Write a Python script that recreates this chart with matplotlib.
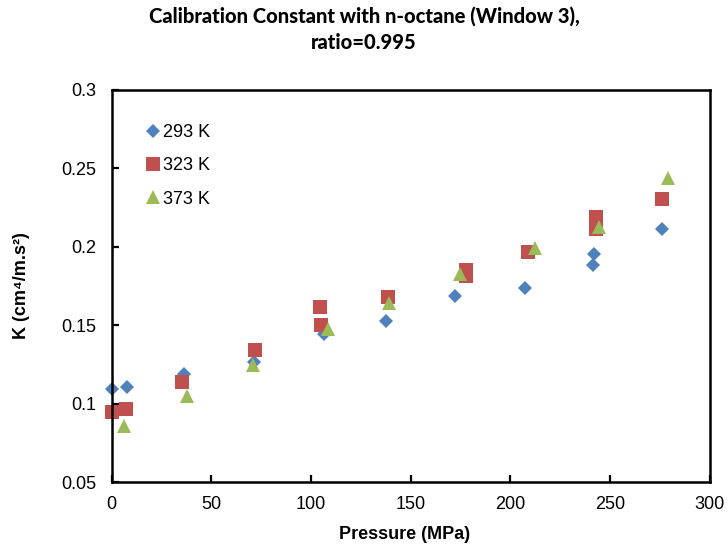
import numpy as np
import matplotlib
matplotlib.use("Agg")
import matplotlib.pyplot as plt

plt.rcParams['font.family'] = ['Liberation Sans', 'DejaVu Sans']

# data: pressure (MPa) and K (cm^4/m.s^2)
p_293 = [0, 7.5, 36.3, 71.4, 106.5, 137.6, 172.2, 207.1, 241.8, 241.2, 276]
k_293 = [0.1093, 0.1106, 0.1189, 0.1267, 0.1444, 0.1529, 0.1686, 0.1737, 0.1954, 0.1884, 0.2114]

p_323 = [0, 7, 35.1, 71.9, 104.5, 104.8, 138.7, 177.5, 177.5, 208.6, 242.7, 242.7, 275.8]
k_323 = [0.0948, 0.0966, 0.1138, 0.1342, 0.1618, 0.1501, 0.168, 0.1854, 0.1816, 0.1969, 0.2187, 0.2114, 0.2307]

p_373 = [6.2, 37.6, 70.9, 108.5, 139.2, 174.7, 212.2, 244.4, 278.8]
k_373 = [0.0857, 0.1048, 0.1246, 0.1474, 0.164, 0.1827, 0.1992, 0.2126, 0.2439]

series = [("293 K", p_293, k_293, "D", "#4F81BD", 7.5),
          ("323 K", p_323, k_323, "s", "#C0504D", 10),
          ("373 K", p_373, k_373, "^", "#9BBB59", 10)]

fig = plt.figure(figsize=(7.28, 5.5), dpi=100)
ax = fig.add_axes([0.1534, 0.1236, 0.8216, 0.7128])

for name, p, k, m, c, s in series:
    ax.plot(p, k, linestyle='none', marker=m, color=c, markersize=s,
            markeredgewidth=0, label=name, clip_on=False)

ax.set_xlim(0, 300)
ax.set_ylim(0.05, 0.3)
ax.set_xticks(np.arange(0, 301, 50))
ax.set_yticks([0.05, 0.1, 0.15, 0.2, 0.25, 0.3])
ax.set_yticklabels(["0.05", "0.1", "0.15", "0.2", "0.25", "0.3"])
ax.tick_params(direction='in', length=5, width=1.6, labelsize=13)
ax.tick_params(axis='x', pad=10)
ax.tick_params(axis='y', pad=11)
for sp in ax.spines.values():
    sp.set_linewidth(1.8)

ax.set_xlabel("Pressure (MPa)", fontsize=13, fontweight='bold')
ax.set_ylabel("K (cm\u2074/m.s\u00b2)", fontsize=13, fontweight='bold')
ax.xaxis.set_label_coords(0.49, -0.113)
ax.yaxis.set_label_coords(-0.137, 0.5)

fig.suptitle("Calibration Constant with n-octane (Window 3),\nratio=0.995",
             fontsize=14.5, fontweight=900, family=['Lato', 'DejaVu Sans'],
             y=0.947, va='center', linespacing=1.4)

ax.legend(loc='upper left', bbox_to_anchor=(0.057, 0.913), frameon=False,
          fontsize=13, handletextpad=0.15, labelspacing=0.9, handlelength=0.8,
          borderaxespad=0, borderpad=0)

fig.savefig("out.png", dpi=100)
